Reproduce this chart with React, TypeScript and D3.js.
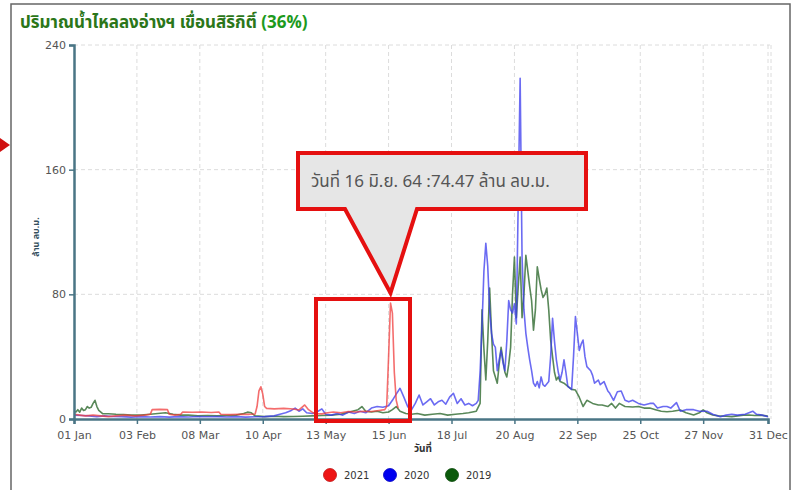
import React, { useEffect, useRef } from 'react';
import * as d3 from 'd3';

// [day of year, million m3]
const inflow2021: [number, number][] = [
  [0, 3], [3, 2.5], [6, 2], [10, 2.5], [14, 2], [18, 1.5], [22, 2], [27, 2.5], [32, 2], [37, 2.5],
  [40, 3], [41, 6], [45, 6.2], [49, 6], [50, 3], [53, 2.5], [56, 3], [57, 4.5], [62, 4.3], [67, 4.5],
  [72, 4.2], [76, 4.5], [77, 3], [82, 2.8], [87, 3], [92, 3], [95, 3.2], [96, 8], [97, 18], [98, 20.7],
  [99, 16], [100, 8], [101, 6.8], [105, 6.5], [110, 6.8], [115, 6.4], [118, 5.8], [120, 8], [121, 9],
  [123, 6], [126, 3.5], [130, 3.3], [133, 4], [136, 4.5], [140, 4], [144, 4.8], [148, 4.5], [152, 5],
  [156, 4.8], [160, 5.5], [163, 6], [164, 8], [165, 40], [166, 74.47], [167, 68], [168, 30], [169, 12], [170, 7],
];

const inflow2020: [number, number][] = [
  [0, 2.5], [4, 2.2], [8, 2], [12, 1.5], [16, 2], [20, 1.6], [25, 1.5], [30, 1.2], [35, 1.5], [40, 1.3],
  [45, 1.5], [50, 1.2], [55, 1.5], [60, 1.3], [65, 1.6], [70, 1.4], [75, 1.5], [80, 1.3], [85, 1.5], [90, 1.2],
  [95, 1.4], [100, 1.5], [105, 2], [108, 3], [111, 4], [114, 5.5], [116, 7], [118, 5], [120, 6.5], [122, 4],
  [125, 3.5], [128, 5], [130, 6.5], [132, 3], [135, 2.5], [138, 3.5], [141, 2.5], [144, 4.5], [147, 3.5], [150, 5],
  [153, 4], [156, 7], [159, 8], [162, 7.5], [165, 8.5], [167, 12], [169, 16], [171, 19.7], [173, 14], [175, 8],
  [177, 5.8], [179, 10], [181, 15.4], [183, 9], [185, 11], [187, 13], [189, 9], [191, 11], [193, 12], [195, 9.5],
  [197, 14], [199, 16.5], [201, 10], [203, 13], [205, 9], [207, 10], [209, 8.5], [211, 10], [212, 12], [213, 30],
  [214, 60], [215, 95], [216, 112.7], [217, 98], [218, 70], [219, 55], [220, 48], [221, 46], [222, 31], [223, 38],
  [224, 44], [225, 36], [226, 31], [227, 50], [228, 76], [229, 70], [230, 68], [231, 74], [232, 61], [233, 140],
  [234, 218.7], [235, 104], [236, 70], [237, 55], [238, 46], [239, 38], [240, 31], [241, 23], [242, 21], [243, 24],
  [244, 20], [245, 27], [246, 22], [247, 21], [249, 24], [250, 40], [251, 64.6], [252, 50], [253, 38], [254, 30],
  [255, 25], [256, 30], [257, 38], [258, 30], [259, 21], [261, 19], [262, 40], [263, 65.7], [264, 55], [265, 44],
  [266, 48], [267, 50.7], [268, 40], [269, 33.6], [271, 31], [272, 28], [273, 23], [275, 25], [276, 22], [278, 24],
  [280, 18], [281, 16.5], [283, 12], [285, 17.5], [287, 18], [289, 12], [291, 11], [293, 12], [296, 10], [299, 9],
  [302, 10], [304, 10], [306, 7], [309, 8], [311, 8], [313, 7], [316, 10.5], [318, 5], [321, 6], [325, 6],
  [328, 5], [332, 5], [335, 3], [339, 1.5], [342, 2.5], [345, 3], [348, 2.5], [352, 3], [356, 5], [358, 3],
  [361, 2.5], [364, 1.5],
];

const inflow2019: [number, number][] = [
  [0, 5], [1, 4.5], [2, 6], [3, 4.4], [4, 7], [5, 5.5], [6, 6], [7, 8], [8, 7], [9, 7.5], [10, 10], [11, 12],
  [12, 8], [13, 5.5], [15, 3.4], [18, 3.4], [22, 3], [26, 2.8], [30, 2.5], [35, 2.5], [40, 3], [44, 3.5],
  [48, 4], [52, 3], [56, 2.5], [60, 2.5], [65, 2], [70, 2.2], [75, 2], [80, 2.2], [85, 2.5], [89, 3.5],
  [91, 4.4], [93, 4], [95, 2], [100, 1.5], [105, 1.8], [110, 1.5], [115, 1.6], [120, 1.8], [125, 2], [130, 2.2],
  [135, 2.5], [140, 3], [143, 4], [146, 5], [149, 6], [151, 8], [153, 5], [156, 4.5], [159, 5], [162, 4],
  [165, 4.5], [167, 6], [169, 8], [171, 5], [174, 3.5], [177, 3], [180, 3.5], [184, 2.5], [188, 3], [192, 3.5],
  [196, 2.5], [200, 3], [204, 3.5], [207, 4], [209, 4.5], [211, 5], [213, 10], [214, 70], [215, 45], [216, 25],
  [217, 50], [218, 84], [219, 55], [220, 31], [221, 27], [222, 23], [223, 35], [224, 46], [225, 38], [226, 30],
  [227, 27], [228, 35], [229, 46], [230, 80], [231, 104], [232, 65], [233, 85], [234, 104], [235, 65], [236, 80],
  [237, 105], [238, 95], [239, 85], [240, 76], [241, 57], [242, 70], [243, 97.7], [244, 90], [245, 83], [246, 78],
  [247, 80], [248, 84], [249, 70], [250, 50.7], [251, 40], [252, 30], [253, 25], [254, 27], [255, 24], [257, 23],
  [259, 21], [261, 19], [263, 18.6], [265, 14], [267, 8], [269, 12], [272, 10], [275, 9], [277, 9], [280, 8],
  [282, 10], [284, 7], [286, 10], [289, 8], [293, 7.7], [296, 8], [299, 7], [302, 7], [305, 6], [308, 5],
  [311, 4.7], [314, 5], [318, 5.8], [321, 4], [325, 2.6], [328, 4], [330, 5.8], [332, 4], [335, 2.6], [338, 2],
  [342, 1.8], [345, 1.5], [348, 2], [351, 2.5], [354, 2.6], [357, 2.2], [360, 2.5], [363, 2], [364, 1.8],
];

const xTickLabels = ['01 Jan', '03 Feb', '08 Mar', '10 Apr', '13 May', '15 Jun', '18 Jul', '20 Aug', '22 Sep', '25 Oct', '27 Nov', '31 Dec'];
const yTicks = [0, 80, 160, 240];
const legendYears = ['2021', '2020', '2019'];
const legendColors = ['#ee1515', '#0000f0', '#0b5a0b'];
const lineColors = ['#f03c3c', '#3a3aee', '#2f6a2f'];

const thaiFont = "Tahoma, 'Noto Sans Thai', 'Leelawadee UI', 'DejaVu Sans', sans-serif";
const tickFont = "Verdana, 'DejaVu Sans', sans-serif";

const App: React.FC = () => {
  const ref = useRef<SVGSVGElement>(null);

  useEffect(() => {
    if (!ref.current) return;
    const svg = d3.select(ref.current);
    svg.selectAll('*').remove();

    const left = 74, right = 768, top = 45, bottom = 419;
    const year = 2021;
    const dayToDate = (d: number) => d3.timeDay.offset(new Date(year, 0, 1), d);
    const x = d3.scaleTime().domain([new Date(year, 0, 1), new Date(year, 11, 31)]).range([left, right]);
    const y = d3.scaleLinear().domain([0, 240]).range([bottom, top]);
    const parse = d3.timeParse('%d %b %Y');
    const tickDates = xTickLabels.map(l => parse(`${l} ${year}`) as Date);

    // frame
    svg.append('rect')
      .attr('x', 11).attr('y', 4).attr('width', 779).attr('height', 500)
      .attr('fill', 'none').attr('stroke', '#666').attr('stroke-width', 1.5);

    // title
    const title = svg.append('text')
      .attr('x', 20).attr('y', 28)
      .style('font-family', thaiFont).style('font-size', '17px').style('font-weight', 'bold')
      .attr('fill', '#2b7619');
    title.append('tspan').text('ปริมาณน้ำไหลลงอ่างฯ เขื่อนสิริกิติ์ ');
    title.append('tspan').attr('fill', '#1d9a1d').text('(36%)');

    // grid
    const grid = svg.append('g').attr('stroke', '#dcdcdc').attr('stroke-dasharray', '4,3').attr('stroke-width', 1);
    grid.selectAll('line.h').data(yTicks.filter(t => t > 0)).enter().append('line')
      .attr('x1', left).attr('x2', right + 2)
      .attr('y1', d => y(d)).attr('y2', d => y(d));
    grid.selectAll('line.v').data(tickDates.slice(1)).enter().append('line')
      .attr('x1', d => x(d)).attr('x2', d => x(d))
      .attr('y1', top).attr('y2', bottom);
    grid.append('line').attr('x1', right + 3).attr('x2', right + 3).attr('y1', top).attr('y2', bottom);

    // lines
    const line = d3.line<[number, number]>()
      .x(d => x(dayToDate(d[0])))
      .y(d => y(d[1]));
    const series = [inflow2019, inflow2020, inflow2021];
    const seriesColors = [lineColors[2], lineColors[1], lineColors[0]];
    series.forEach((s, i) => {
      svg.append('path')
        .datum(s)
        .attr('d', line)
        .attr('fill', 'none')
        .attr('stroke', seriesColors[i])
        .attr('stroke-opacity', i === 0 ? 0.8 : 0.75)
        .attr('stroke-width', 1.6)
        .attr('stroke-linejoin', 'round');
    });

    // axes
    const axisColor = '#4a7585';
    const yAxis = svg.append('g').attr('transform', `translate(${left},0)`)
      .call(d3.axisLeft(y).tickValues(yTicks).tickSize(5).tickFormat(d3.format('d')));
    const xAxis = svg.append('g').attr('transform', `translate(0,${bottom})`)
      .call(d3.axisBottom(x).tickValues(tickDates).tickSize(5).tickFormat((_, i) => xTickLabels[i]));
    [yAxis, xAxis].forEach(g => {
      g.select('.domain').attr('stroke', axisColor).attr('stroke-width', 2.5);
      g.selectAll('.tick line').attr('stroke', axisColor).attr('stroke-width', 1.5);
      g.selectAll('.tick text').attr('fill', '#555').style('font-family', tickFont).style('font-size', '11px');
    });
    xAxis.selectAll('.tick text').attr('dy', '1.05em');

    // axis titles
    svg.append('text')
      .attr('transform', 'translate(39,237) rotate(-90)')
      .attr('text-anchor', 'middle')
      .style('font-family', thaiFont).style('font-size', '9px').style('font-weight', 'bold')
      .attr('fill', '#34505e')
      .text('ล้าน ลบ.ม.');
    svg.append('text')
      .attr('x', 423).attr('y', 452).attr('text-anchor', 'middle')
      .style('font-family', thaiFont).style('font-size', '10px').style('font-weight', 'bold')
      .attr('fill', '#333')
      .text('วันที่');

    // legend
    const legend = svg.append('g').attr('transform', 'translate(330,475)');
    legendYears.forEach((yr, i) => {
      const g = legend.append('g').attr('transform', `translate(${[0, 60, 122][i]},0)`);
      g.append('circle').attr('r', 6.5).attr('fill', legendColors[i]).attr('stroke', d3.color(legendColors[i])!.darker(0.6).toString()).attr('stroke-width', 0.8);
      g.append('text').attr('x', 14).attr('y', 4)
        .style('font-family', tickFont).style('font-size', '10px').attr('fill', '#333').text(yr);
    });

    // annotation: highlight box
    svg.append('rect')
      .attr('x', 316).attr('y', 299).attr('width', 94).attr('height', 122)
      .attr('fill', 'none').attr('stroke', '#e51010').attr('stroke-width', 4);

    // annotation: callout
    const bx0 = 298, by0 = 153, bx1 = 586, by1 = 209;
    const peakX = x(dayToDate(166));
    const callout = d3.path();
    callout.moveTo(bx0, by0);
    callout.lineTo(bx1, by0);
    callout.lineTo(bx1, by1);
    callout.lineTo(417, by1);
    callout.lineTo(peakX, 293);
    callout.lineTo(345, by1);
    callout.lineTo(bx0, by1);
    callout.closePath();
    svg.append('path').attr('d', callout.toString())
      .attr('fill', '#e6e6e6').attr('stroke', '#e51010').attr('stroke-width', 4).attr('stroke-linejoin', 'miter');
    svg.append('text')
      .attr('x', 311).attr('y', 187)
      .style('font-family', thaiFont).style('font-size', '17px')
      .attr('fill', '#555')
      .text('วันที่ 16 มิ.ย. 64 :74.47 ล้าน ลบ.ม.');

    // left arrow marker
    svg.append('path').attr('d', 'M0,138L10,145L0,152Z').attr('fill', '#d01010');
  }, []);

  return (
    <svg ref={ref} width={799} height={490} style={{ position: 'absolute', left: 0, top: 0, background: '#fff' }} />
  );
};

export default App;
